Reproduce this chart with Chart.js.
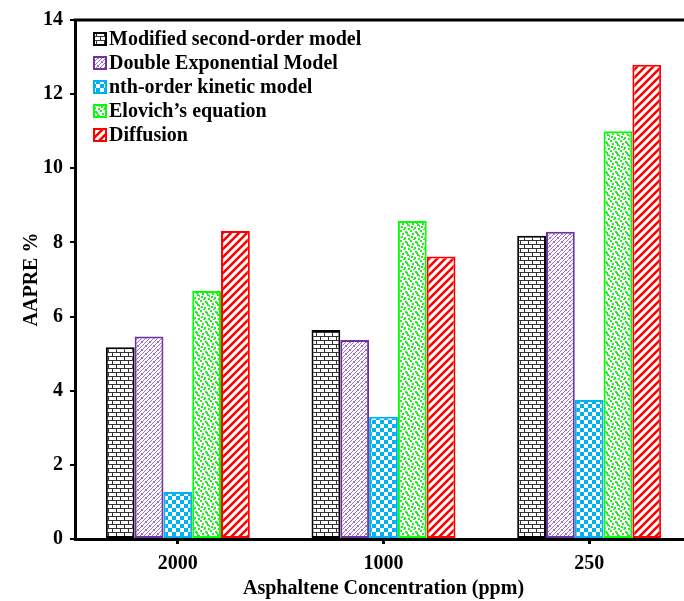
<!DOCTYPE html>
<html>
<head>
<meta charset="utf-8">
<script src="https://cdn.jsdelivr.net/npm/chart.js@4.4.1/dist/chart.umd.min.js"></script>
<style>
  html, body { margin: 0; padding: 0; background: #fff; overflow: hidden; width: 684px; height: 601px; }
  #wrap { width: 684px; height: 601px; overflow: hidden; position: relative; }
  canvas { display: block; }
</style>
</head>
<body>
<div id="wrap"><canvas id="c" width="700" height="601" style="width:700px;height:601px"></canvas></div>
<script>
const categories = ['2000', '1000', '250'];
const seriesNames = ['Modified second-order model', 'Double Exponential Model', 'nth-order kinetic model', 'Elovich\u2019s equation', 'Diffusion'];
const modifiedSecondOrder = [5.17, 5.64, 8.18];
const doubleExponential = [5.46, 5.37, 8.29];
const nthOrderKinetic = [1.27, 3.30, 3.75];
const elovichEquation = [6.69, 8.58, 11.00];
const diffusionModel = [8.31, 7.62, 12.79];
const yTicks = [0, 2, 4, 6, 8, 10, 12, 14];
const xTitle = 'Asphaltene Concentration (ppm)';
const yTitle = 'AAPRE %';

const FONT = '"Liberation Serif", "Times New Roman", serif';

function makeTile(w, h, draw) {
  const c = document.createElement('canvas');
  c.width = w; c.height = h;
  const g = c.getContext('2d');
  g.fillStyle = '#fff'; g.fillRect(0, 0, w, h);
  draw(g);
  return document.createElement('canvas').getContext('2d').createPattern(c, 'repeat');
}

const brickPattern = makeTile(8, 8, g => {
  g.fillStyle = '#333';
  g.fillRect(0, 0, 8, 1);
  g.fillRect(0, 4, 8, 1);
  g.fillRect(0, 0, 1, 4);
  g.fillRect(4, 4, 1, 4);
});

const weavePattern = makeTile(8, 8, g => {
  g.strokeStyle = '#9a72cc';
  g.lineWidth = 1;
  g.beginPath();
  g.moveTo(-1, 9); g.lineTo(9, -1);
  g.moveTo(3, 9); g.lineTo(9, 3);
  g.moveTo(-1, 5); g.lineTo(5, -1);
  g.moveTo(1, 1); g.lineTo(3, 3);
  g.moveTo(5, 5); g.lineTo(7, 7);
  g.stroke();
});

const checkPattern = makeTile(8, 8, g => {
  g.fillStyle = '#00B0F0';
  g.fillRect(0, 0, 4, 4);
  g.fillRect(4, 4, 4, 4);
});

const dotsPattern = makeTile(10, 10, g => {
  g.fillStyle = '#22EE22';
  const pts = [[0,0],[5,1],[2,3],[7,4],[1,6],[4,7],[8,8],[6,2],[3,9],[9,5]];
  pts.forEach(p => g.fillRect(p[0], p[1], 2, 2));
});

const stripePattern = makeTile(8, 8, g => {
  g.strokeStyle = '#FF0000';
  g.lineWidth = 2.6;
  g.beginPath();
  g.moveTo(-2, 10); g.lineTo(10, -2);
  g.moveTo(-2, 2); g.lineTo(2, -2);
  g.moveTo(6, 10); g.lineTo(10, 6);
  g.stroke();
});

const seriesValues = [modifiedSecondOrder, doubleExponential, nthOrderKinetic, elovichEquation, diffusionModel];
const fills = [brickPattern, weavePattern, checkPattern, dotsPattern, stripePattern];
const borders = ['#000000', '#7030A0', '#00B0F0', '#00FF00', '#FF0000'];

const datasets = seriesNames.map((name, i) => ({
  label: name,
  data: seriesValues[i],
  backgroundColor: fills[i],
  borderColor: borders[i],
  borderWidth: 2,
  borderSkipped: false,
  categoryPercentage: 0.7,
  barPercentage: 1.0
}));

const frameAndLegend = {
  id: 'frameAndLegend',
  afterDraw(chart) {
    const ctx = chart.ctx;
    const a = chart.chartArea;
    ctx.save();
    ctx.strokeStyle = '#000';
    ctx.lineWidth = 3;
    ctx.beginPath();
    ctx.moveTo(a.left - 1.5, a.top);
    ctx.lineTo(chart.width, a.top);
    ctx.stroke();
    const x0 = a.left + 19;
    const rowH = 24;
    const y0 = a.top + 19;
    ctx.font = 'bold 20px ' + FONT;
    ctx.textBaseline = 'middle';
    ctx.textAlign = 'left';
    chart.data.datasets.forEach((ds, i) => {
      const cy = y0 + i * rowH;
      ctx.fillStyle = ds.backgroundColor;
      ctx.fillRect(x0, cy - 6, 12, 12);
      ctx.strokeStyle = ds.borderColor;
      ctx.lineWidth = 2;
      ctx.strokeRect(x0, cy - 6, 12, 12);
      ctx.fillStyle = '#000';
      ctx.fillText(ds.label, x0 + 15, cy + 1);
    });
    ctx.restore();
  }
};

new Chart(document.getElementById('c'), {
  type: 'bar',
  data: { labels: categories, datasets },
  options: {
    responsive: false,
    animation: false,
    devicePixelRatio: 1,
    layout: { padding: { top: 20, right: 8, left: 0, bottom: 0 } },
    plugins: { legend: { display: false }, tooltip: { enabled: false } },
    scales: {
      x: {
        offset: true,
        grid: { display: true, drawOnChartArea: false, drawTicks: true, tickLength: 5, color: '#000', lineWidth: 3, offset: false },
        border: { display: true, color: '#000', width: 3 },
        ticks: { color: '#000', font: { family: FONT, size: 20, weight: 'bold' }, padding: 8, maxRotation: 0 },
        title: { display: true, text: xTitle, color: '#000', font: { family: FONT, size: 20, weight: 'bold' }, padding: { top: 0, bottom: 0 } },
        afterFit(s) { s.height = 62; }
      },
      y: {
        min: 0, max: 14,
        afterBuildTicks(s) { s.ticks = yTicks.map(v => ({ value: v })); },
        grid: { display: true, drawOnChartArea: false, drawTicks: true, tickLength: 5, color: '#000', lineWidth: 2 },
        border: { display: true, color: '#000', width: 3 },
        ticks: { color: '#000', font: { family: FONT, size: 20, weight: 'bold' }, padding: 7 },
        title: { display: true, text: yTitle, color: '#000', font: { family: FONT, size: 20, weight: 'bold' }, padding: { top: 20, bottom: 0 } },
        afterFit(s) { s.width = 75; }
      }
    }
  },
  plugins: [frameAndLegend]
});
</script>
</body>
</html>
